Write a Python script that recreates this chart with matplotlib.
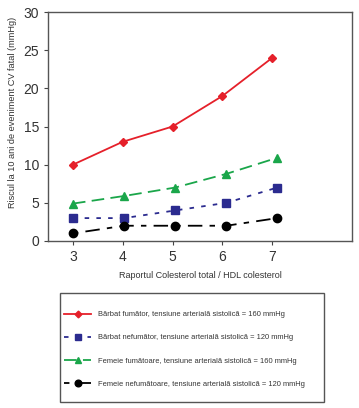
import matplotlib.pyplot as plt
from matplotlib.patches import Rectangle

ratio = [3, 4, 5, 6, 7]
x_shift = [3.0, 4.03, 5.05, 6.08, 7.1]

barbat_fumator = [10, 13, 15, 19, 24]
barbat_nefumator = [3, 3, 4, 5, 7]
femeie_fumatoare = [4.9, 5.9, 7, 8.8, 10.9]
femeie_nefumatoare = [1, 2, 2, 2, 3]

labels = ['Bărbat fumător, tensiune arterială sistolică = 160 mmHg',
          'Bărbat nefumător, tensiune arterială sistolică = 120 mmHg',
          'Femeie fumătoare, tensiune arterială sistolică = 160 mmHg',
          'Femeie nefumătoare, tensiune arterială sistolică = 120 mmHg']

plt.rcParams['font.family'] = ['Liberation Sans', 'DejaVu Sans']

W, H = 359, 408
fig = plt.figure(figsize=(W/100, H/100), dpi=100)
ax = fig.add_axes([48/W, 1 - 241/H, (352-48)/W, (241-12)/H])

h1, = ax.plot(ratio, barbat_fumator, color='#e5202a', marker='D', markersize=4.3, lw=1.3)
h2, = ax.plot(x_shift, barbat_nefumator, color='#2b2b8f', marker='s', markersize=6, lw=1.3,
              linestyle=(0, (2.5, 4)))
h3, = ax.plot(x_shift, femeie_fumatoare, color='#1aa64a', marker='^', markersize=6, lw=1.3,
              linestyle=(0, (7, 3.5)))
h4, = ax.plot(x_shift, femeie_nefumatoare, color='black', marker='o', markersize=6, lw=1.3,
              linestyle=(0, (3, 4, 8, 4)))

ax.set_xlim(2.5, 8.6)
ax.set_ylim(0, 30)
ax.set_xticks(ratio)
ax.set_yticks([0, 5, 10, 15, 20, 25, 30])
ax.tick_params(axis='both', labelsize=10, length=3, color='#444444', labelcolor='#333333')
for s in ax.spines.values():
    s.set_color('#555555')
    s.set_linewidth(1)
ax.set_xlabel('Raportul Colesterol total / HDL colesterol', fontsize=6.5, color='#333333', labelpad=5)
ax.set_ylabel('Riscul la 10 ani de eveniment CV fatal (mmHg)', fontsize=6.6, color='#333333')
ax.yaxis.set_label_coords(-0.103, 0.56)

# legend box drawn separately so the vertical padding can differ from the horizontal
box = Rectangle((60/W, 1 - 402/H), (324-60)/W, (402-293)/H, transform=fig.transFigure,
                facecolor='white', edgecolor='#555555', linewidth=1)
fig.patches.append(box)

leg = fig.legend([h1, h2, h3, h4], labels, loc='upper left',
                 bbox_to_anchor=(64/W, 1 - 311/H), fontsize=5.45, frameon=False,
                 handlelength=3.6, labelspacing=2.1, borderpad=0,
                 handletextpad=0.9, borderaxespad=0, markerscale=0.8)
for t in leg.get_texts():
    t.set_color('#333333')

fig.savefig('out.png', dpi=100)
